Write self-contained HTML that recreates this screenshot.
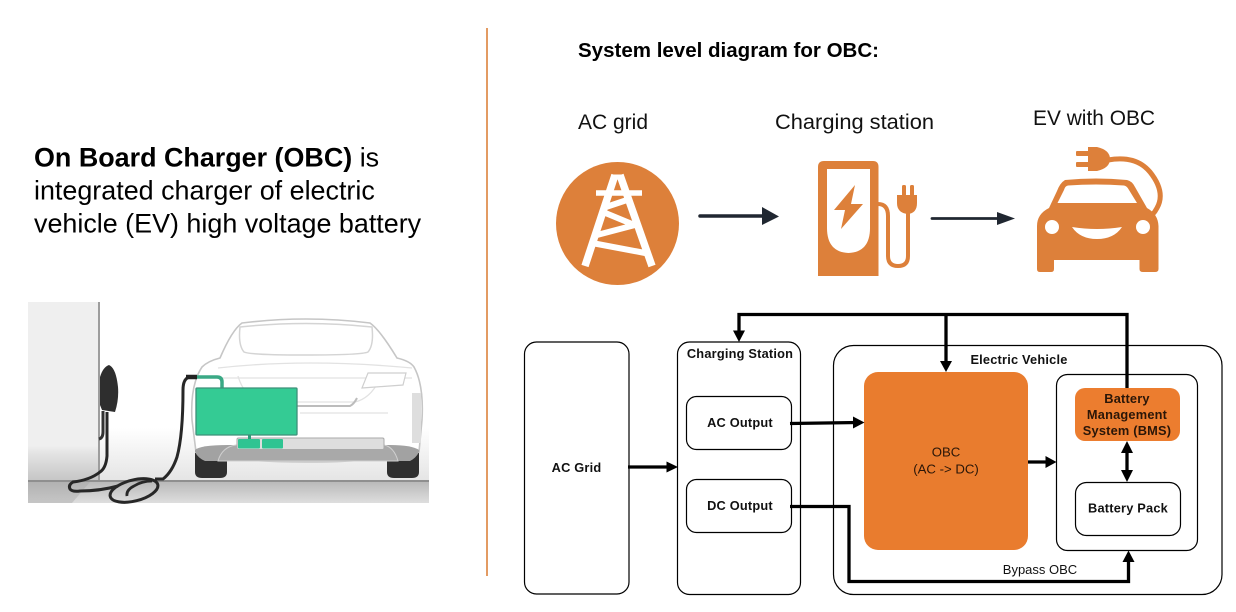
<!DOCTYPE html>
<html><head><meta charset="utf-8">
<style>html,body{margin:0;padding:0;background:#fff}svg{display:block}text{font-family:"Liberation Sans",Arial,sans-serif}</style>
</head><body>
<svg width="1236" height="612" viewBox="0 0 1236 612" xmlns="http://www.w3.org/2000/svg">
<defs>
<linearGradient id="wall" x1="0" y1="0" x2="0" y2="1"><stop offset="0" stop-color="#efefef"/><stop offset=".8" stop-color="#efefef"/><stop offset=".83" stop-color="#e6e6e6"/><stop offset="1" stop-color="#c4c4c4"/></linearGradient>
<linearGradient id="gr" x1="0" y1="0" x2="0" y2="1"><stop offset="0" stop-color="#fff"/><stop offset=".7" stop-color="#fff"/><stop offset="1" stop-color="#e4e4e4"/></linearGradient>
<linearGradient id="fl" x1="0" y1="0" x2="0" y2="1"><stop offset="0" stop-color="#b8b8b8"/><stop offset="1" stop-color="#dedede"/></linearGradient>
</defs>
<rect width="1236" height="612" fill="#fff"/>

<!-- left text -->
<text x="34" y="166.500" font-size="26.900" fill="#000"><tspan font-weight="bold">On Board Charger (OBC)</tspan> is</text>
<text x="34" y="199.500" font-size="26.900" fill="#000">integrated charger of electric</text>
<text x="34" y="232.500" font-size="26.900" fill="#000">vehicle (EV) high voltage battery</text>

<!-- left illustration -->
<g>
<rect x="99" y="302" width="330" height="180" fill="url(#gr)"/>
<rect x="28" y="302" width="71" height="180" fill="url(#wall)"/>
<rect x="98" y="302" width="2" height="180" fill="#9d9d9d"/>
<rect x="28" y="481" width="401" height="22" fill="url(#fl)"/>
<rect x="28" y="480" width="401" height="2" fill="#8f8f8f"/>
<path d="M28 503H72L90 482H28Z" fill="#a9a9a9" opacity=".45"/>
<!-- car -->
<path d="M195 453H227V472Q227 478 220 478H202Q195 478 195 472ZM387 453H419V472Q419 478 412 478H394Q387 478 387 472Z" fill="#2f2f2f"/>
<path d="M242 323Q306 315 370 323Q380 330 397 358Q410 361 414 367Q424 385 422 420L419 452Q380 462 306 462Q232 462 196 452L192 420Q190 385 202 367Q208 361 220 358Q232 330 242 323Z" fill="#fff" stroke="#c6c6c6" stroke-width="1.6"/>
<path d="M195 450Q200 445 228 445H390Q412 445 419 450V452Q416 458 410 461H205Q198 458 195 452Z" fill="#a2a2a2"/>
<path d="M218 461Q222 447 236 445H384Q394 447 398 461Z" fill="#a9a9a9" stroke="#d0d0d0"/>
<path d="M240 327Q306 320 372 327Q374 345 368 352Q362 355 306 355Q250 355 244 352Q238 345 240 327Z" fill="#fff" stroke="#d4d4d4" stroke-width="1.5"/>
<path d="M218 368Q306 358 412 368M218 378H412M238 376Q245 400 266 402L355 402Q372 398 381 376M300 413H388" fill="none" stroke="#e2e2e2" stroke-width="1.3"/>
<path d="M362 388L403 385L406 373L368 373Z" fill="#fff" stroke="#cfcfcf" stroke-width="1.2"/>
<rect x="412" y="393" width="9" height="50" fill="#dedede"/>
<path d="M297 406H350Q354 404 357 398" fill="none" stroke="#bcbcbc" stroke-width="2"/>
<!-- bumper / battery -->
<rect x="237" y="438" width="147" height="11.500" rx="1.500" fill="#dedede" stroke="#a9a9a9"/>
<rect x="238" y="439" width="22" height="9.500" rx="1" fill="#2fc492"/>
<rect x="262" y="439" width="21" height="9.500" rx="1" fill="#2fc492"/>
<rect x="248" y="434" width="3" height="5" fill="#2a9c78"/>
<!-- green -->
<path d="M197 377H217Q222 377 222 382V388" fill="none" stroke="#3aa985" stroke-width="3.500"/>
<rect x="196" y="388" width="101" height="47" rx="1" fill="#34cb94" stroke="#3d9079" stroke-width="1.300"/>
<!-- charger -->
<path d="M100 377Q103 367 109 365Q116 368 118 387Q119 400 115 412L102 410L100 405Z" fill="#2e2e2e"/>
<path d="M103 411V432Q103 438 99 439" fill="none" stroke="#333" stroke-width="3"/>
<path d="M107 412V456Q106 468 100 472Q90 480 73 482Q68 485 70 489Q72 492 80 491Q100 491 118 486" fill="none" stroke="#272727" stroke-width="3"/>
<ellipse cx="134" cy="490.500" rx="24.500" ry="10.500" transform="rotate(-14 134 490.500)" fill="none" stroke="#272727" stroke-width="3"/>
<path d="M127 496Q126 490 134 486Q142 481 152 481" fill="none" stroke="#272727" stroke-width="2.800"/>
<path d="M155 479H163Q172 472 177 457Q183 435 183 390Q183 378 190 377" fill="none" stroke="#272727" stroke-width="3"/>
<path d="M186 377H197" stroke="#222" stroke-width="4.500"/>
</g>

<!-- divider -->
<rect x="486" y="28" width="2" height="548" fill="#e39b63"/>

<!-- header -->
<text x="578" y="57" font-size="20.500" font-weight="bold" textLength="301" lengthAdjust="spacingAndGlyphs" fill="#000">System level diagram for OBC:</text>
<text x="578" y="129" font-size="21.500" textLength="70" lengthAdjust="spacingAndGlyphs" fill="#111">AC grid</text>
<text x="775" y="129" font-size="21.500" textLength="159" lengthAdjust="spacingAndGlyphs" fill="#111">Charging station</text>
<text x="1033" y="125" font-size="21.500" textLength="122" lengthAdjust="spacingAndGlyphs" fill="#111">EV with OBC</text>

<!-- grid icon -->
<circle cx="617.500" cy="223.500" r="61.500" fill="#dd803a"/>
<g stroke="#fff" fill="none" stroke-width="6">
<path d="M615 175L585 266M620 175L652 266" stroke-width="7.500"/>
<path d="M612 176H623" stroke-width="3"/>
<path d="M596 193H642" stroke-width="5.500"/>
<path d="M603 208L627 200M603 212L632 224M597 235L635 225M592 243L645 253" />
</g>
<!-- arrows top -->
<path d="M700 216H765" stroke="#202731" stroke-width="3.500" stroke-linecap="round"/>
<path d="M762 207L779 216.500L762 225Z" fill="#202731"/>
<path d="M932 218.500H1000" stroke="#202731" stroke-width="2.800" stroke-linecap="round"/>
<path d="M997 212L1015 218.500L997 225Z" fill="#202731"/>

<!-- station icon -->
<path d="M818 276V167Q818 161 824 161H873Q878.500 161 878.500 167V276Z" fill="#dd803a"/>
<path d="M827 169H870V228Q870 252 848.500 253Q827 252 827 228Z" fill="#fff"/>
<path d="M855 185L834 210H845L841 229L863 204H851Z" fill="#dd803a"/>
<path d="M878 204Q888 204 888 216V256Q888 266 898 266Q908 266 908 256V213" fill="none" stroke="#dd803a" stroke-width="4"/>
<path d="M897 195H917V203Q917 213 908 214Q897 213 897 203Z" fill="#dd803a"/>
<rect x="902" y="185" width="4" height="11" rx="1.500" fill="#dd803a"/>
<rect x="910" y="185" width="4" height="11" rx="1.500" fill="#dd803a"/>

<!-- car icon -->
<path d="M1108 160Q1136 155 1150 172Q1166 192 1157 208Q1155 212 1152 215" fill="none" stroke="#dd803a" stroke-width="5"/>
<path d="M1088 147H1097Q1110 150 1110 159Q1110 168 1097 171H1088Z" fill="#dd803a"/>
<rect x="1076" y="151" width="14" height="5" rx="1" fill="#dd803a"/>
<rect x="1076" y="162" width="14" height="5" rx="1" fill="#dd803a"/>
<path d="M1065 180Q1096 177 1127 180Q1132 181 1135 187L1147 208Q1158 214 1158.500 226V269Q1158.500 272 1155 272H1143Q1139.500 272 1139.500 269V260H1054V269Q1054 272 1051 272H1040Q1037 272 1037 269V226Q1037 214 1049 208L1057 191Q1060 183 1065 180Z" fill="#dd803a"/>
<path d="M1068 185.500Q1096 183.500 1124 185.500Q1127 186 1129 190L1137 203H1057.500L1064 190Q1065 186 1068 185.500Z" fill="#fff"/>
<circle cx="1052" cy="227" r="7" fill="#fff"/>
<circle cx="1143" cy="227" r="7" fill="#fff"/>
<path d="M1072 227Q1097 231 1122 227Q1114 239 1097 239Q1080 239 1072 227Z" fill="#fff"/>

<!-- block diagram -->
<g fill="#fff" stroke="#000" stroke-width="1.200">
<rect x="524.500" y="342" width="104.500" height="252" rx="12"/>
<rect x="677.500" y="342" width="123" height="252.500" rx="12"/>
<rect x="833.500" y="345.500" width="388.500" height="249" rx="20"/>
<rect x="686.500" y="396.500" width="105" height="53" rx="10"/>
<rect x="686.500" y="479.500" width="105" height="53" rx="10"/>
<rect x="1056.500" y="374.500" width="141" height="176" rx="11"/>
<rect x="1075.500" y="482.500" width="105" height="53" rx="11"/>
</g>
<rect x="864" y="372" width="164" height="178" rx="14" fill="#e97c2e"/>
<rect x="1075" y="388" width="105" height="53" rx="10" fill="#ec7d2f"/>

<!-- connectors -->
<g fill="none" stroke="#000" stroke-width="3.300">
<path d="M1127 388V314.500H739V334"/>
<path d="M946 314V365"/>
<path d="M628 467H671"/>
<path d="M790 423.500L858 422.500"/>
<path d="M1028 462H1049"/>
<path d="M790 506.500H849V581.500H1128.500V557"/>
<path d="M1127 448V476"/>
</g>
<g fill="#000">
<path d="M733 330.500H745L739 342Z"/>
<path d="M940 361H952L946 372Z"/>
<path d="M666.500 461.500L678 467L666.500 472.500Z"/>
<path d="M853 416.500L864.500 422.500L853 428.500Z"/>
<path d="M1045.500 456L1056.500 462L1045.500 468Z"/>
<path d="M1128.500 550.500L1134.500 562H1122.500Z"/>
<path d="M1127 441L1133 453H1121Z"/>
<path d="M1127 482L1133 470H1121Z"/>
</g>

<!-- block labels -->
<g font-size="12.800" font-weight="bold" text-anchor="middle" fill="#111" letter-spacing=".2">
<text x="576.500" y="472">AC Grid</text>
<text x="740" y="358">Charging Station</text>
<text x="740" y="427">AC Output</text>
<text x="740" y="510">DC Output</text>
<text x="1019" y="364">Electric Vehicle</text>
<text x="1128" y="512.500">Battery Pack</text>
<text x="1127" y="403" fill="#2a1608">Battery</text>
<text x="1127" y="419" fill="#2a1608">Management</text>
<text x="1127" y="435" fill="#2a1608">System (BMS)</text>
</g>
<g font-size="13.200" text-anchor="middle" fill="#2a1608">
<text x="946" y="456.500">OBC</text>
<text x="946" y="473.500">(AC -&gt; DC)</text>
</g>
<text x="1040" y="574" font-size="13" text-anchor="middle" fill="#111">Bypass OBC</text>
</svg>
</body></html>
